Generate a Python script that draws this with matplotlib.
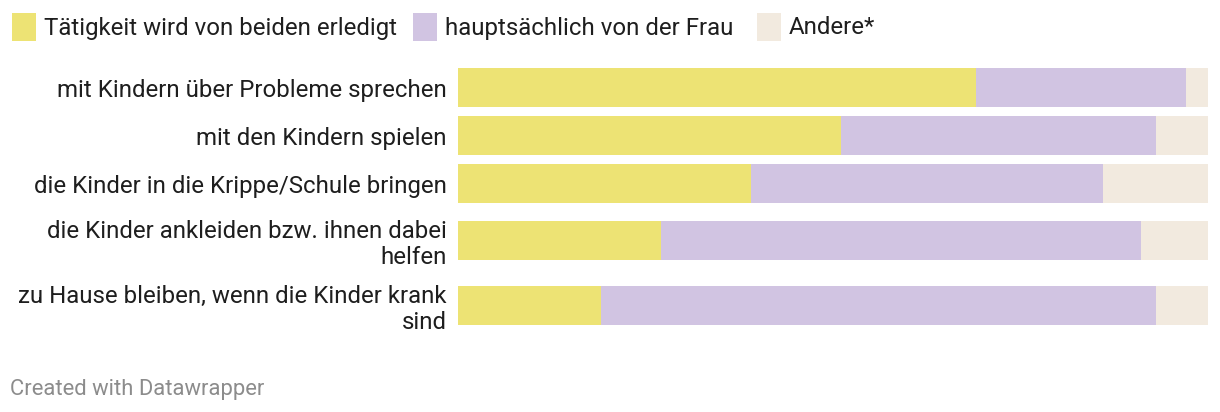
import matplotlib
matplotlib.use('Agg')
import matplotlib.pyplot as plt
from matplotlib.patches import Rectangle
import numpy as np

plt.rcParams['font.family'] = ['Roboto', 'DejaVu Sans']

# Daten (Anteile in %)
categories = [
    "mit Kindern über Probleme sprechen",
    "mit den Kindern spielen",
    "die Kinder in die Krippe/Schule bringen",
    "die Kinder ankleiden bzw. ihnen dabei\nhelfen",
    "zu Hause bleiben, wenn die Kinder krank\nsind",
]
beide = [69, 51, 39, 27, 19]
frau = [28, 42, 47, 64, 74]
andere = [3, 7, 14, 9, 7]

series_names = ["Tätigkeit wird von beiden erledigt", "hauptsächlich von der Frau", "Andere*"]
colors = ["#ede374", "#d1c4e2", "#f2eadf"]

W, H = 1220, 412
fig = plt.figure(figsize=(W / 100, H / 100), dpi=100)

# Zeilenhöhen je nach Anzahl der Beschriftungszeilen (in Pixeln)
row_h = [48 if c.count("\n") == 0 else 65 for c in categories]
centers = np.cumsum(row_h) - np.array(row_h) / 2
total = sum(row_h)
top_px = 87.5 - centers[0]

ax = fig.add_axes([458 / W, 1 - (top_px + total) / H, 750 / W, total / H])
left = np.zeros(len(categories))
for vals, col in zip([beide, frau, andere], colors):
    ax.barh(centers, vals, left=left, height=39, color=col, linewidth=0)
    left += np.array(vals)

ax.set_xlim(0, 100)
ax.set_ylim(total, 0)
ax.set_xticks([])
ax.set_yticks(centers)
ax.set_yticklabels(categories, fontsize=17.3, color="#1e1e1e", linespacing=1.22)
ax.tick_params(axis='y', length=0, pad=8)
for s in ax.spines.values():
    s.set_visible(False)

# Legende
leg_x = [12, 413, 757]
for x, name, col in zip(leg_x, series_names, colors):
    fig.patches.append(Rectangle((x / W, 1 - 41 / H), 24 / W, 28 / H,
                                 transform=fig.transFigure, color=col, linewidth=0))
    fig.text((x + 32) / W, 1 - 28 / H, name, fontsize=17.3, color="#1e1e1e",
             va='center', ha='left')

fig.text(10 / W, 1 - 389 / H, "Created with Datawrapper", fontsize=15.8,
         color="#8c8c8c", va='center', ha='left')

fig.savefig("out.png", dpi=100)
